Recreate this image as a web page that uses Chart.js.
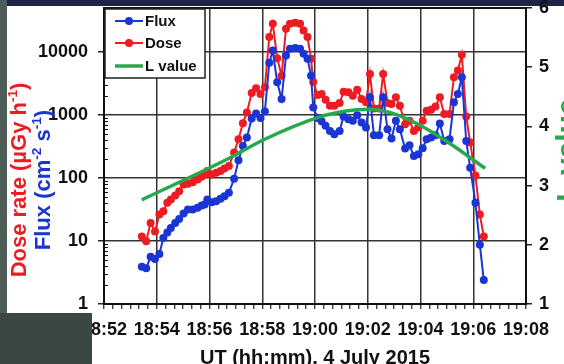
<!DOCTYPE html>
<html>
<head>
<meta charset="utf-8">
<script src="https://cdn.jsdelivr.net/npm/chart.js@4.4.1/dist/chart.umd.min.js"></script>
<style>
  html, body { margin: 0; padding: 0; background: #fff; }
  #wrap { width: 564px; height: 364px; }
</style>
</head>
<body>
<div id="wrap"><canvas id="chart" width="564" height="364"></canvas></div>
<script>
// sample times, seconds after 18:52:00 UT
const times = [
  86, 96, 106, 116, 126, 135, 144, 152, 162, 171,
  181, 191, 202, 213, 222, 229, 235, 245, 255, 265,
  274, 284, 296, 306, 316, 325, 336, 346, 356, 366,
  376, 384, 394, 404, 414, 423, 435, 446, 454, 463,
  471, 476, 486, 495, 504, 514, 524, 536, 545, 556,
  566, 576, 586, 596, 605, 614, 626, 635, 645, 654,
  664, 673, 685, 695, 705, 715, 725, 734, 744, 754,
  764, 774, 786, 796, 805, 814, 824, 833, 845, 855,
  864
];
// flux, cm-2 s-1
const flux = [
  3.9, 3.7, 5.6, 5.2, 6.2, 11.2, 13.7, 16.1, 19.4, 22.4,
  27.3, 31.6, 31.6, 33.6, 36.6, 37.9, 45.6, 41.3, 42.8, 46.8,
  51.4, 58.3, 97.5, 191, 323, 439, 883, 1060, 893, 1141,
  6730, 10570, 3310, 1790, 8800, 11250, 11540, 11250, 9360, 7790,
  4220, 1320, 893, 799, 673, 560, 496, 560, 950, 860,
  808, 996, 762, 634, 1910, 478, 478, 1910, 596, 423,
  808, 596, 293, 331, 224, 238, 297, 413, 439, 478,
  735, 388, 413, 1590, 2150, 3980, 388, 146, 40.4, 8.7,
  2.4
];
// dose rate, uGy h-1
const dose = [
  11.8, 9.9, 19.4, 14.2, 26.3, 29.7, 40.4, 45.6, 52.8, 61.8,
  79, 81, 86, 95, 105, 114, 129, 114, 121, 129,
  141, 155, 253, 413, 743, 1100, 2235, 2656, 2154, 2755,
  17280, 28170, 7990, 4220, 23440, 28170, 29220, 28170, 22030, 17280,
  7790, 3350, 2080, 2154, 1748, 1402, 1402, 1548, 2344, 2293,
  2024, 2523, 1793, 1589, 4491, 1274, 1274, 4491, 1548, 1492,
  1909, 1402, 716, 808, 560, 634, 808, 1167, 1210, 1371,
  1909, 1034, 1034, 3979, 5069, 9023, 950, 366, 110, 26.3,
  11.8
];
// L value (right axis)
const lTimes = [86, 287, 362, 491, 544, 601, 657, 719, 787, 867];
const lValue = [2.76, 3.47, 3.77, 4.16, 4.25, 4.29, 4.22, 4.02, 3.71, 3.29];

const xTickLabels = ['18:52', '18:54', '18:56', '18:58', '19:00', '19:02', '19:04', '19:06', '19:08'];
const yTicks = [1, 10, 100, 1000, 10000];
const y2Ticks = [1, 2, 3, 4, 5, 6];

const FONT = "'Liberation Sans', Arial, sans-serif";
const BLUE = '#1b35d4';
const RED = '#ee1c22';
const GREEN = '#27a84a';
const INK = '#111';

Chart.defaults.font.family = FONT;

const isDecade = v => Math.abs(Math.log10(v) - Math.round(Math.log10(v))) < 1e-6;

function noPad(s) {
  s.paddingTop = 0; s.paddingBottom = 0; s.paddingLeft = 0; s.paddingRight = 0;
}

// rotated (-90deg) text with superscripts, baseline at bx, centred on cy
function drawRotated(ctx, parts, bx, cy, size, color) {
  ctx.save();
  ctx.fillStyle = color;
  ctx.textBaseline = 'alphabetic';
  ctx.textAlign = 'left';
  let w = 0;
  parts.forEach(p => {
    ctx.font = 'bold ' + (p.sup ? size * 0.62 : size) + 'px ' + FONT;
    p.w = ctx.measureText(p.t).width;
    w += p.w;
  });
  ctx.translate(bx, cy);
  ctx.rotate(-Math.PI / 2);
  let x = -w / 2;
  parts.forEach(p => {
    ctx.font = 'bold ' + (p.sup ? size * 0.62 : size) + 'px ' + FONT;
    ctx.fillText(p.t, x, p.sup ? -size * 0.42 : 0);
    x += p.w;
  });
  ctx.restore();
}

const backdrop = {
  id: 'backdrop',
  beforeDraw(chart) {
    const {ctx, width, height} = chart;
    ctx.save();
    ctx.fillStyle = '#fff';
    ctx.fillRect(0, 0, width, height);
    ctx.fillStyle = '#1e2548';
    ctx.fillRect(0, 0, width, 6);
    ctx.fillStyle = '#4f5d57';
    ctx.fillRect(0, 0, 7, height);
    ctx.restore();
  }
};

const extras = {
  id: 'extras',
  afterDraw(chart) {
    const {ctx, chartArea: a, height} = chart;
    const y = chart.scales.y;
    ctx.save();
    // frame
    ctx.strokeStyle = INK;
    ctx.lineWidth = 2;
    ctx.strokeRect(a.left, a.top, a.right - a.left, a.bottom - a.top);
    // minor log ticks inside the left axis
    ctx.lineWidth = 1;
    ctx.beginPath();
    yTicks.forEach(d => {
      for (let m = 2; m <= 9; m++) {
        const v = m * d;
        if (v > y.max) break;
        const py = Math.round(y.getPixelForValue(v)) + 0.5;
        ctx.moveTo(a.left, py);
        ctx.lineTo(a.left + 4, py);
      }
    });
    ctx.stroke();

    // legend
    const lx = 105, ly = 9, lw = 100, lh = 69;
    ctx.fillStyle = '#fff';
    ctx.fillRect(lx, ly, lw, lh);
    ctx.strokeStyle = '#222';
    ctx.lineWidth = 1.5;
    ctx.strokeRect(lx, ly, lw, lh);
    const rows = [21, 43, 66];
    chart.data.datasets.forEach((ds, i) => {
      const ry = rows[i];
      ctx.strokeStyle = ds.borderColor;
      ctx.lineWidth = ds.borderWidth;
      ctx.beginPath();
      ctx.moveTo(115, ry);
      ctx.lineTo(143, ry);
      ctx.stroke();
      if (ds.pointRadius) {
        ctx.fillStyle = ds.borderColor;
        ctx.beginPath();
        ctx.arc(129, ry, 4, 0, Math.PI * 2);
        ctx.fill();
      }
      ctx.fillStyle = INK;
      ctx.font = 'bold 15px ' + FONT;
      ctx.textBaseline = 'middle';
      ctx.textAlign = 'left';
      ctx.fillText(ds.label, 145, ry + 1);
    });

    // dark photo corner at bottom left, over the first tick label
    ctx.fillStyle = '#3b4842';
    ctx.fillRect(0, 313, 92, height - 313);
    ctx.fillStyle = '#4f5d57';
    ctx.fillRect(0, 0, 7, 313);
    ctx.restore();

    // axis titles
    drawRotated(ctx, [{t: 'Dose rate (\u00b5Gy h'}, {t: '-1', sup: true}, {t: ')'}], 26, 180, 22, RED);
    drawRotated(ctx, [{t: 'Flux (cm'}, {t: '-2', sup: true}, {t: ' s'}, {t: '-1', sup: true}, {t: ')'}], 50, 180, 22, BLUE);
    drawRotated(ctx, [{t: 'L value'}], 577, 150, 30, GREEN);
  }
};

const pts = arr => arr.map((v, i) => ({x: times[i], y: v}));

new Chart(document.getElementById('chart'), {
  type: 'line',
  data: {
    datasets: [
      {
        label: 'Flux',
        data: pts(flux),
        yAxisID: 'y',
        borderColor: BLUE,
        backgroundColor: BLUE,
        borderWidth: 2,
        pointRadius: 4,
        pointBorderWidth: 0,
        pointBackgroundColor: BLUE,
        tension: 0,
        order: 1
      },
      {
        label: 'Dose',
        data: pts(dose),
        yAxisID: 'y',
        borderColor: RED,
        backgroundColor: RED,
        borderWidth: 2,
        pointRadius: 4,
        pointBorderWidth: 0,
        pointBackgroundColor: RED,
        tension: 0,
        order: 2
      },
      {
        label: 'L value',
        data: lValue.map((v, i) => ({x: lTimes[i], y: v})),
        yAxisID: 'y1',
        borderColor: GREEN,
        backgroundColor: GREEN,
        borderWidth: 3.5,
        pointRadius: 0,
        cubicInterpolationMode: 'monotone',
        order: 0
      }
    ]
  },
  options: {
    responsive: false,
    animation: false,
    devicePixelRatio: 1,
    layout: { padding: { top: 8, left: 0, right: 0, bottom: 0 } },
    plugins: {
      legend: { display: false },
      tooltip: { enabled: false }
    },
    scales: {
      x: {
        type: 'linear',
        min: 0,
        max: 960,
        afterFit: s => { s.height = 60; noPad(s); },
        border: { color: INK, width: 2 },
        grid: {
          color: c => (c.tick && c.tick.value % 120 === 0) ? '#333' : 'rgba(0,0,0,0)',
          lineWidth: 1.5,
          tickColor: '#222',
          tickLength: 5,
          tickWidth: 1.2
        },
        ticks: {
          stepSize: 20,
          autoSkip: false,
          maxRotation: 0,
          maxTicksLimit: 100,
          padding: 10,
          color: INK,
          font: { size: 18, weight: 'bold' },
          callback: v => v % 120 === 0 ? xTickLabels[v / 120] : ''
        },
        title: {
          display: true,
          text: 'UT (hh:mm), 4 July 2015',
          color: INK,
          font: { size: 20, weight: 'bold', lineHeight: 1 },
          padding: { top: 0, bottom: -4 }
        }
      },
      y: {
        type: 'logarithmic',
        position: 'left',
        min: 1,
        max: 50000,
        afterFit: s => { s.width = 104; noPad(s); },
        border: { color: INK, width: 2 },
        grid: {
          color: c => (c.tick && isDecade(c.tick.value)) ? '#333' : 'rgba(0,0,0,0)',
          tickColor: c => (c.tick && isDecade(c.tick.value)) ? '#222' : 'rgba(0,0,0,0)',
          lineWidth: 1.5,
          tickLength: 6
        },
        ticks: {
          autoSkip: false,
          padding: 10,
          color: INK,
          font: { size: 18, weight: 'bold' },
          callback: v => yTicks.includes(v) ? String(v) : ''
        }
      },
      y1: {
        type: 'linear',
        position: 'right',
        min: 1,
        max: 6,
        afterFit: s => { s.width = 38; noPad(s); },
        border: { color: INK, width: 2 },
        grid: {
          drawOnChartArea: false,
          tickColor: '#222',
          tickLength: 6,
          lineWidth: 1.5
        },
        ticks: {
          stepSize: 1,
          padding: 7,
          color: INK,
          font: { size: 18, weight: 'bold' },
          callback: v => y2Ticks.includes(v) ? String(v) : ''
        }
      }
    }
  },
  plugins: [backdrop, extras]
});
</script>
</body>
</html>
